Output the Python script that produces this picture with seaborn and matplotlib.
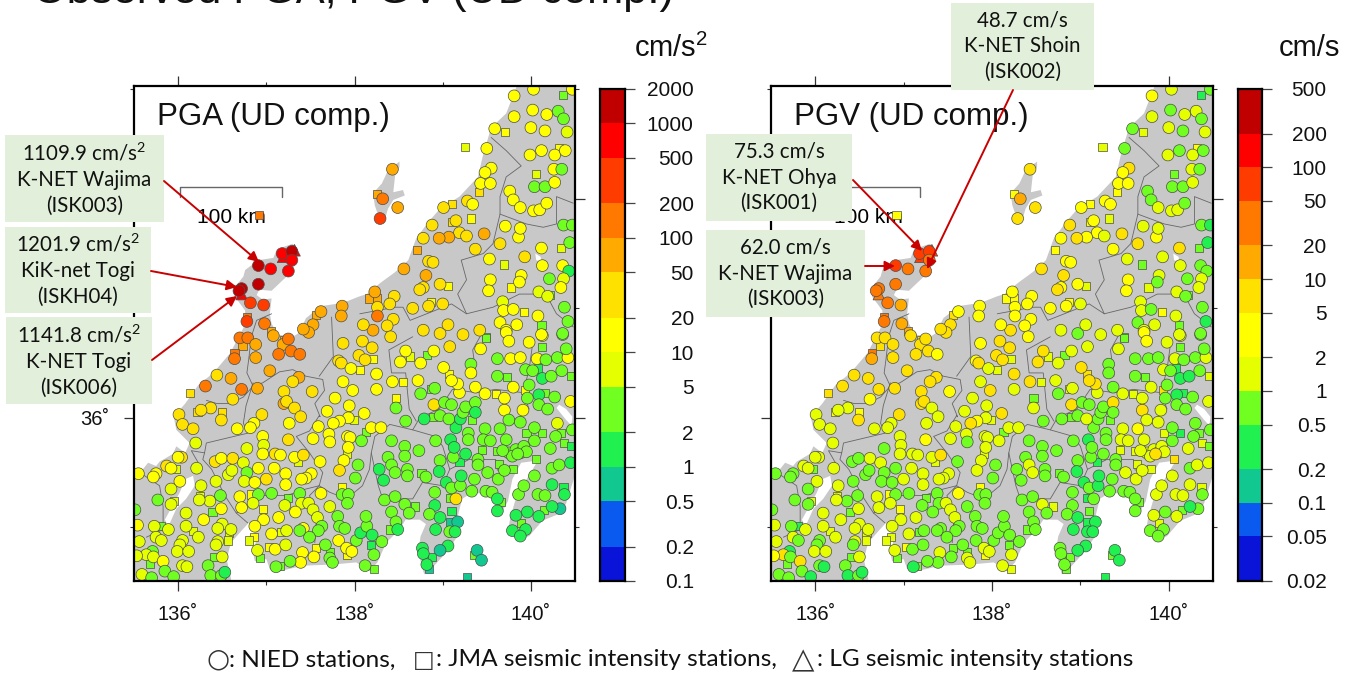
"""Observed PGA / PGV maps (UD component) drawn with seaborn."""

import numpy as np
import pandas as pd
import seaborn as sns
import matplotlib.pyplot as plt
from matplotlib.colors import BoundaryNorm, ListedColormap
from matplotlib.patches import FancyArrowPatch, Rectangle
from matplotlib.ticker import NullLocator

# Stations, ten per line in all five lists
STATION_LON = [
    136.91, 137.05, 137.25, 137.18, 137.29, 137.29, 136.91, 136.72, 136.69, 136.82,
    136.97, 136.78, 136.78, 136.98, 137.05, 137.20, 137.62, 137.56, 137.53, 137.48,
    137.42, 137.86, 137.85, 136.92, 138.43, 138.25, 138.32, 138.49, 138.29, 137.32,
    137.19, 136.72, 139.81, 140.03, 140.36, 140.47, 140.02, 139.81, 140.18, 140.31,
    140.37, 139.59, 139.71, 140.00, 140.16, 140.41, 139.25, 139.50, 139.99, 140.12,
    140.27, 140.39, 140.32, 140.26, 140.35, 140.06, 139.55, 139.48, 139.43, 139.54,
    139.41, 140.04, 140.16, 140.27, 139.76, 139.80, 139.88, 140.03, 140.10, 140.18,
    140.37, 140.47, 140.44, 140.12, 140.34, 139.93, 140.13, 140.36, 140.43, 140.21,
    140.37, 140.34, 140.09, 140.19, 140.22, 140.38, 140.42, 140.08, 140.12, 140.36,
    140.13, 139.89, 139.87, 139.77, 139.54, 139.52, 139.70, 139.53, 139.37, 139.65,
    139.86, 139.88, 139.71, 139.47, 139.19, 139.27, 139.07, 138.96, 138.78, 138.88,
    139.01, 139.28, 139.34, 139.11, 139.15, 139.32, 139.11, 138.71, 138.56, 138.81,
    138.84, 138.89, 138.97, 139.06, 138.78, 138.74, 138.66, 138.84, 138.87, 139.00,
    138.23, 138.16, 138.25, 138.26, 138.26, 138.45, 138.40, 138.44, 138.37, 138.21,
    138.10, 138.78, 138.97, 139.06, 139.23, 139.42, 139.65, 139.68, 139.69, 139.80,
    139.92, 139.84, 139.72, 138.41, 139.49, 136.70, 136.79, 136.73, 136.88, 136.64,
    136.64, 136.88, 137.08, 137.19, 137.25, 137.14, 137.28, 137.38, 137.04, 137.37,
    137.30, 136.90, 136.72, 136.60, 136.44, 136.31, 136.14, 136.62, 137.20, 137.52,
    137.20, 137.23, 137.32, 137.39, 137.87, 138.09, 138.20, 138.05, 138.12, 138.21,
    137.82, 137.85, 137.96, 138.06, 138.25, 137.87, 137.98, 138.25, 137.78, 137.94,
    137.69, 138.11, 137.93, 137.99, 137.83, 137.76, 137.59, 137.26, 136.95, 136.86,
    136.82, 136.67, 136.49, 136.50, 136.37, 136.26, 136.22, 136.01, 136.05, 136.17,
    136.20, 136.04, 136.00, 135.87, 135.92, 135.98, 135.55, 135.75, 135.72, 136.02,
    135.92, 135.92, 135.95, 135.77, 135.51, 135.54, 135.73, 135.80, 135.89, 135.75,
    135.81, 135.56, 136.05, 136.02, 135.99, 136.12, 135.71, 135.64, 135.72, 135.53,
    135.83, 135.68, 136.05, 136.10, 135.85, 135.59, 135.70, 135.95, 136.34, 136.37,
    136.49, 136.53, 136.41, 136.50, 136.45, 136.43, 136.23, 136.17, 136.09, 136.29,
    136.09, 136.39, 136.49, 136.50, 136.45, 136.58, 136.60, 136.57, 136.36, 136.24,
    136.25, 136.26, 136.43, 136.48, 136.21, 136.57, 136.61, 136.42, 136.49, 136.62,
    136.74, 136.78, 136.96, 136.97, 136.96, 136.91, 136.78, 136.75, 136.87, 137.00,
    137.09, 137.22, 137.10, 137.16, 137.32, 137.42, 137.36, 137.61, 137.25, 137.53,
    137.71, 137.72, 137.92, 137.95, 138.08, 137.93, 137.91, 137.88, 137.83, 138.04,
    138.01, 137.51, 137.45, 137.40, 137.22, 137.62, 137.86, 137.86, 137.93, 137.92,
    137.38, 137.25, 137.06, 136.91, 136.83, 136.70, 136.72, 136.85, 136.96, 136.97,
    137.21, 137.40, 137.48, 137.53, 137.33, 137.14, 137.58, 137.72, 137.81, 137.83,
    137.89, 137.63, 137.59, 137.42, 137.23, 137.17, 137.06, 136.87, 136.86, 136.80,
    136.90, 136.93, 137.03, 137.10, 137.22, 137.49, 137.38, 137.67, 137.82, 137.91,
    137.97, 138.02, 138.07, 138.14, 138.13, 138.20, 138.19, 138.31, 138.22, 138.12,
    138.22, 137.92, 137.72, 137.75, 137.72, 137.54, 137.56, 137.41, 137.39, 137.27,
    137.11, 137.15, 138.33, 138.28, 138.38, 138.42, 138.46, 138.60, 138.60, 138.76,
    138.81, 138.42, 138.57, 138.57, 138.73, 138.92, 139.09, 139.15, 138.19, 138.30,
    138.13, 138.34, 138.46, 138.69, 138.57, 138.62, 138.42, 138.47, 138.49, 138.40,
    138.91, 138.91, 138.85, 138.97, 139.10, 139.08, 139.17, 138.92, 139.08, 139.14,
    139.06, 138.77, 138.78, 138.97, 138.88, 138.82, 138.84, 139.39, 139.44, 139.36,
    139.28, 139.15, 139.08, 139.04, 139.10, 139.20, 139.21, 139.36, 139.33, 139.49,
    139.56, 139.62, 139.66, 139.62, 139.86, 139.92, 140.04, 140.08, 140.16, 140.24,
    140.37, 140.38, 140.24, 140.32, 140.45, 140.33, 140.24, 140.15, 140.09, 139.96,
    139.83, 139.89, 139.94, 139.79, 139.88, 139.51, 139.63, 139.70, 139.80, 139.64,
    139.40, 139.40, 139.26, 139.19, 139.12, 138.97, 138.96, 139.13, 139.29, 139.29,
    139.48, 139.65, 139.95, 140.13, 140.04, 139.72, 139.46, 139.54, 140.04, 140.28,
    140.34, 140.47, 140.38, 140.45, 140.22, 139.75, 139.83, 139.88, 139.92, 139.79,
    139.95, 139.85, 139.68, 140.06, 139.62, 139.45, 138.47, 138.47, 138.58, 138.43,
    138.55, 138.72, 138.75, 138.91, 138.87, 138.79, 138.89, 138.97, 139.07, 138.90,
    139.02, 139.10, 139.20, 139.23, 139.26, 139.37, 139.37, 139.33, 139.70, 139.91,
    139.75, 139.88, 140.09, 139.96, 140.09, 140.19, 140.27, 140.30, 140.45, 140.16,
    139.93, 139.70, 139.60, 139.48, 139.37, 139.19, 139.17, 139.10, 139.07, 139.01,
    138.75, 138.52, 138.58, 138.63, 138.82, 138.90, 139.08, 139.43, 139.32, 139.32,
    139.62, 139.77, 139.88, 139.62, 139.73, 139.94, 140.02, 140.08, 140.13, 140.23,
    140.35, 140.46, 139.98, 139.80, 140.07, 140.17, 140.30, 140.42, 139.98, 140.13,
    140.12, 140.36, 140.40, 139.72, 139.49, 139.75,
]
STATION_LAT = [
    37.39, 37.36, 37.34, 37.50, 37.52, 37.44, 37.22, 37.18, 37.16, 37.05,
    37.03, 36.92, 36.88, 36.86, 36.79, 36.71, 36.97, 36.94, 36.85, 36.78,
    36.81, 37.02, 36.93, 37.85, 38.27, 38.04, 38.00, 37.92, 37.82, 37.53,
    37.47, 37.13, 38.94, 39.00, 38.95, 39.00, 38.81, 38.75, 38.77, 38.80,
    38.73, 38.64, 38.61, 38.65, 38.62, 38.61, 38.47, 38.46, 38.40, 38.44,
    38.40, 38.44, 38.46, 38.27, 38.27, 38.23, 38.28, 38.24, 38.14, 38.14,
    38.06, 38.11, 38.11, 38.15, 38.07, 37.99, 37.92, 37.89, 37.90, 37.96,
    37.76, 37.76, 37.60, 37.55, 37.55, 37.47, 37.39, 37.39, 37.34, 37.27,
    37.27, 37.19, 37.15, 37.11, 37.12, 37.01, 36.88, 36.93, 36.85, 36.76,
    36.75, 37.30, 37.24, 37.19, 37.26, 37.16, 37.40, 37.45, 37.54, 37.59,
    37.65, 37.73, 37.75, 37.68, 37.69, 37.66, 37.65, 37.64, 37.64, 37.76,
    37.92, 37.98, 37.95, 37.95, 37.80, 37.82, 37.79, 37.53, 37.36, 37.30,
    37.43, 37.42, 37.22, 37.20, 37.19, 37.17, 37.00, 37.02, 37.06, 37.04,
    37.15, 37.09, 37.09, 37.01, 36.93, 37.11, 37.04, 36.90, 36.84, 36.80,
    36.85, 36.80, 36.77, 36.85, 36.76, 36.80, 36.87, 37.06, 36.98, 36.99,
    36.97, 36.85, 36.80, 36.74, 36.74, 36.73, 36.73, 36.66, 36.67, 36.59,
    36.54, 36.55, 36.75, 36.67, 36.72, 36.58, 36.61, 36.58, 36.43, 36.37,
    36.33, 36.27, 36.26, 36.36, 36.39, 36.29, 36.23, 36.17, 36.24, 36.24,
    36.13, 36.15, 36.09, 36.01, 36.68, 36.70, 36.64, 36.57, 36.53, 36.54,
    36.52, 36.50, 36.45, 36.44, 36.40, 36.33, 36.25, 36.26, 36.18, 36.11,
    36.06, 36.04, 36.00, 35.98, 35.97, 35.95, 35.92, 35.95, 36.03, 35.95,
    35.91, 35.90, 35.98, 36.05, 36.09, 36.07, 36.05, 36.03, 35.94, 35.90,
    35.77, 35.64, 35.64, 35.56, 35.54, 35.53, 35.49, 35.49, 35.46, 35.42,
    35.35, 35.21, 35.24, 35.25, 35.16, 35.02, 35.01, 35.01, 34.98, 34.91,
    34.88, 34.87, 34.88, 34.84, 34.78, 34.78, 34.78, 34.75, 34.73, 34.74,
    34.69, 34.67, 34.65, 34.64, 34.60, 34.57, 34.54, 34.55, 34.65, 34.56,
    34.56, 34.59, 34.73, 34.73, 34.87, 34.84, 34.91, 34.97, 35.01, 35.07,
    35.13, 35.14, 35.17, 35.03, 34.99, 34.95, 34.98, 34.88, 35.24, 35.25,
    35.29, 35.38, 35.42, 35.29, 35.54, 35.48, 35.52, 35.60, 35.63, 35.63,
    35.59, 35.72, 35.83, 35.75, 35.67, 35.54, 35.50, 35.42, 35.41, 35.44,
    35.54, 35.49, 35.67, 35.66, 35.64, 35.66, 35.60, 35.60, 35.80, 35.81,
    35.85, 35.78, 35.83, 35.82, 35.79, 35.73, 35.67, 35.61, 35.52, 35.57,
    35.45, 35.49, 35.45, 35.44, 35.39, 35.31, 35.37, 35.30, 35.30, 35.22,
    35.31, 35.27, 35.31, 35.30, 35.30, 35.28, 35.18, 35.22, 35.17, 35.07,
    35.20, 35.22, 35.22, 35.16, 35.14, 35.09, 35.09, 35.19, 35.10, 35.01,
    34.99, 35.01, 34.97, 34.99, 34.97, 34.96, 34.94, 35.01, 34.91, 34.88,
    34.79, 34.72, 34.82, 34.80, 34.84, 34.91, 34.97, 34.84, 34.88, 34.81,
    34.78, 34.88, 34.95, 35.01, 35.10, 34.93, 34.84, 34.87, 34.75, 34.65,
    34.62, 34.75, 34.72, 34.68, 34.77, 34.73, 34.81, 34.77, 34.68, 34.69,
    34.64, 34.65, 35.43, 35.53, 35.64, 35.57, 35.50, 35.53, 35.47, 35.50,
    35.46, 35.79, 35.74, 35.65, 35.70, 35.79, 35.80, 35.91, 35.91, 35.91,
    35.87, 35.25, 35.28, 35.19, 35.21, 35.13, 35.14, 35.05, 34.98, 34.98,
    35.32, 35.20, 35.12, 35.09, 35.15, 35.05, 35.05, 34.98, 34.96, 34.96,
    34.83, 34.81, 34.76, 34.79, 34.73, 34.66, 34.62, 34.79, 34.70, 34.75,
    34.55, 35.26, 35.27, 35.41, 35.36, 35.38, 35.47, 35.44, 35.33, 35.33,
    35.32, 35.26, 35.23, 35.15, 35.30, 35.38, 35.47, 35.30, 35.29, 35.39,
    35.37, 35.30, 35.54, 35.57, 35.59, 35.17, 35.19, 35.16, 35.10, 35.14,
    35.11, 35.04, 34.98, 34.97, 34.92, 35.50, 35.44, 35.52, 35.53, 35.58,
    35.62, 35.57, 35.67, 35.60, 35.64, 35.61, 35.51, 35.73, 35.86, 35.80,
    35.90, 35.90, 35.86, 35.86, 35.91, 35.80, 35.80, 35.79, 35.79, 35.83,
    35.86, 35.89, 35.77, 35.74, 35.72, 35.68, 35.71, 35.68, 35.74, 35.65,
    35.69, 35.67, 35.70, 35.62, 35.70, 35.71, 36.09, 36.18, 35.97, 36.33,
    36.33, 36.34, 36.22, 36.27, 36.26, 35.99, 36.01, 36.02, 35.99, 36.12,
    36.14, 36.12, 35.99, 36.05, 36.10, 36.14, 36.05, 35.98, 36.07, 36.07,
    35.98, 35.96, 36.21, 36.18, 36.12, 36.08, 36.19, 35.95, 36.15, 36.23,
    36.25, 36.18, 36.22, 36.22, 36.28, 36.23, 36.31, 36.34, 36.40, 36.46,
    36.50, 36.51, 36.61, 36.56, 36.57, 36.61, 36.65, 36.63, 36.49, 36.41,
    36.54, 36.54, 36.55, 36.38, 36.37, 36.44, 36.43, 36.45, 36.36, 36.38,
    36.43, 36.38, 36.30, 36.28, 36.54, 36.53, 36.55, 36.55, 36.69, 36.65,
    36.76, 36.77, 36.63, 36.78, 36.73, 36.70,
]
STATION_KIND = list(
    "oooooooooo" "osoossosoo" "ooososooot"
    "ttoosooooo" "oosooosooo" "oosoosoooo"
    "sooooooooo" "oooosooooo" "oooosoooso"
    "ooosoosooo" "oooooooooo" "ooososssoo"
    "ooosooooso" "ossooooooo" "oooooooooo"
    "sooosoosos" "oooooooooo" "oooooosooo"
    "ooooooooos" "ooosoooooo" "ooosoooooo"
    "ooosoosooo" "ooooosoooo" "oosoooosoo"
    "oooooooooo" "osoooooooo" "oosoooosoo"
    "osooososoo" "sooooooooo" "oooooooooo"
    "oooooosooo" "oooooosooo" "oooooosooo"
    "osoosoooso" "oooooooooo" "ooooosooss"
    "ossooooooo" "oooooosooo" "ssoososooo"
    "osooooooos" "oooooooooo" "soosooooos"
    "oooossoooo" "oooososoos" "sosooooooo"
    "oosooooooo" "soooooosoo" "osooooooss"
    "ooosoooooo" "oossoooooo" "sossoooooo"
    "ooosssosoo" "sooososooo" "ooooooosoo"
    "ooooooooos" "sosoooooso" "ooossooooo"
    "oooosoosoo" "osooooooos" "ooooso"
)
STATION_PGA = [
    1109.9, 700, 700, 700, 1150, 700, 1150, 1201.9, 1141.8, 300,
    300, 150, 300, 150, 70, 70, 70, 70, 70, 70,
    70, 70, 70, 150, 70, 70, 150, 70, 300, 700,
    700, 700, 15, 15, 3.5, 15, 15, 15, 15, 3.5,
    3.5, 15, 15, 15, 15, 7, 7, 15, 15, 15,
    15, 15, 15, 15, 3.5, 7, 15, 15, 15, 15,
    30, 3.5, 3.5, 15, 15, 15, 15, 15, 15, 15,
    3.5, 3.5, 3.5, 15, 7, 30, 15, 15, 1.5, 3.5,
    7, 15, 7, 7, 3.5, 3.5, 3.5, 15, 3.5, 3.5,
    15, 15, 15, 15, 15, 15, 7, 15, 30, 30,
    15, 15, 15, 70, 30, 30, 70, 70, 30, 30,
    30, 30, 15, 30, 30, 15, 30, 70, 70, 70,
    30, 30, 30, 15, 30, 30, 30, 30, 15, 30,
    70, 70, 70, 30, 150, 30, 30, 30, 30, 70,
    30, 30, 30, 30, 30, 30, 15, 7, 15, 15,
    15, 15, 15, 30, 3.5, 150, 150, 70, 70, 150,
    150, 70, 70, 70, 150, 150, 150, 150, 70, 70,
    30, 70, 150, 70, 30, 150, 30, 30, 30, 30,
    70, 30, 30, 30, 30, 30, 30, 30, 30, 15,
    30, 30, 15, 15, 15, 15, 15, 15, 15, 15,
    15, 15, 15, 7, 15, 15, 15, 15, 30, 15,
    15, 15, 30, 30, 30, 30, 30, 30, 30, 30,
    7, 30, 15, 30, 15, 7, 15, 15, 15, 15,
    7, 7, 7, 3.5, 3.5, 15, 7, 3.5, 7, 7,
    7, 7, 7, 7, 7, 7, 3.5, 7, 7, 7,
    15, 3.5, 7, 7, 3.5, 7, 3.5, 3.5, 3.5, 3.5,
    3.5, 1.5, 3.5, 7, 7, 7, 7, 7, 7, 15,
    7, 3.5, 15, 7, 7, 7, 7, 7, 7, 7,
    7, 7, 7, 3.5, 7, 7, 7, 30, 15, 30,
    7, 7, 15, 7, 15, 15, 3.5, 7, 15, 30,
    15, 15, 30, 15, 15, 30, 7, 15, 30, 15,
    15, 15, 15, 15, 3.5, 15, 7, 15, 30, 3.5,
    3.5, 15, 15, 15, 15, 15, 15, 3.5, 3.5, 3.5,
    3.5, 3.5, 3.5, 3.5, 15, 15, 15, 7, 15, 15,
    7, 7, 7, 7, 15, 15, 7, 7, 3.5, 3.5,
    3.5, 3.5, 3.5, 15, 7, 7, 15, 15, 15, 7,
    7, 3.5, 15, 15, 7, 3.5, 3.5, 3.5, 15, 15,
    15, 3.5, 1.5, 3.5, 3.5, 1.5, 1.5, 3.5, 3.5, 3.5,
    3.5, 15, 3.5, 3.5, 3.5, 15, 15, 15, 15, 3.5,
    3.5, 3.5, 1.5, 1.5, 3.5, 3.5, 3.5, 3.5, 3.5, 3.5,
    3.5, 3.5, 3.5, 3.5, 3.5, 3.5, 1.5, 1.5, 15, 15,
    3.5, 3.5, 3.5, 3.5, 3.5, 3.5, 3.5, 3.5, 1.5, 3.5,
    3.5, 1.5, 3.5, 1.5, 1.5, 0.7, 0.7, 1.5, 3.5, 1.5,
    1.5, 1.5, 1.5, 0.7, 1.5, 1.5, 0.7, 0.7, 0.7, 3.5,
    0.7, 30, 3.5, 1.5, 3.5, 3.5, 1.5, 3.5, 3.5, 3.5,
    3.5, 1.5, 3.5, 1.5, 3.5, 3.5, 3.5, 3.5, 3.5, 1.5,
    1.5, 1.5, 3.5, 3.5, 1.5, 0.7, 1.5, 3.5, 1.5, 1.5,
    1.5, 3.5, 1.5, 1.5, 1.5, 3.5, 3.5, 3.5, 3.5, 3.5,
    3.5, 3.5, 1.5, 1.5, 3.5, 3.5, 1.5, 1.5, 3.5, 3.5,
    3.5, 3.5, 3.5, 3.5, 3.5, 3.5, 3.5, 3.5, 3.5, 3.5,
    3.5, 3.5, 3.5, 1.5, 3.5, 3.5, 3.5, 3.5, 3.5, 3.5,
    3.5, 3.5, 3.5, 3.5, 3.5, 3.5, 3.5, 15, 3.5, 15,
    15, 15, 3.5, 3.5, 3.5, 1.5, 3.5, 3.5, 3.5, 30,
    3.5, 3.5, 1.5, 3.5, 3.5, 3.5, 1.5, 3.5, 15, 15,
    3.5, 3.5, 1.5, 3.5, 3.5, 3.5, 3.5, 7, 15, 3.5,
    15, 15, 15, 15, 15, 15, 15, 15, 15, 15,
    15, 15, 15, 7, 3.5, 15, 30, 15, 3.5, 15,
    3.5, 15, 15, 3.5, 3.5, 3.5, 3.5, 1.5, 1.5, 3.5,
    3.5, 3.5, 3.5, 15, 15, 3.5, 3.5, 15, 15, 3.5,
    15, 3.5, 3.5, 15, 3.5, 15,
]
STATION_PGV = [
    62.0, 30, 48.7, 75.3, 70, 30, 30, 30, 30, 30,
    15, 30, 30, 15, 15, 7, 3.5, 7, 7, 7,
    7, 3.5, 3.5, 3.5, 7, 3.5, 15, 7, 7, 70,
    70, 30, 3.5, 1.5, 0.35, 0.7, 0.7, 1.5, 1.5, 1.5,
    0.7, 0.7, 1.5, 1.5, 0.7, 1.5, 1.5, 0.7, 1.5, 0.7,
    1.5, 0.7, 3.5, 1.5, 0.7, 0.7, 7, 3.5, 3.5, 3.5,
    3.5, 0.7, 0.7, 1.5, 0.7, 0.7, 1.5, 1.5, 1.5, 0.7,
    0.7, 0.35, 0.35, 7, 0.7, 1.5, 1.5, 0.7, 0.7, 0.7,
    1.5, 1.5, 1.5, 0.7, 0.7, 0.7, 0.35, 1.5, 0.7, 0.7,
    1.5, 1.5, 0.7, 1.5, 3.5, 3.5, 0.7, 1.5, 3.5, 7,
    3.5, 1.5, 1.5, 7, 3.5, 1.5, 3.5, 7, 3.5, 7,
    3.5, 3.5, 3.5, 3.5, 3.5, 1.5, 3.5, 3.5, 7, 7,
    3.5, 3.5, 3.5, 1.5, 3.5, 7, 3.5, 3.5, 3.5, 1.5,
    3.5, 3.5, 3.5, 3.5, 3.5, 3.5, 3.5, 3.5, 3.5, 7,
    3.5, 1.5, 0.7, 1.5, 1.5, 1.5, 0.7, 1.5, 1.5, 0.7,
    3.5, 1.5, 1.5, 3.5, 0.7, 7, 7, 7, 7, 30,
    15, 7, 7, 7, 7, 7, 7, 3.5, 7, 7,
    7, 7, 7, 7, 7, 7, 7, 3.5, 7, 3.5,
    7, 7, 1.5, 1.5, 3.5, 7, 7, 7, 7, 1.5,
    3.5, 7, 1.5, 1.5, 7, 1.5, 7, 1.5, 1.5, 1.5,
    1.5, 7, 1.5, 1.5, 3.5, 7, 1.5, 1.5, 7, 1.5,
    1.5, 1.5, 7, 3.5, 1.5, 1.5, 3.5, 1.5, 1.5, 1.5,
    1.5, 1.5, 1.5, 1.5, 1.5, 0.7, 0.7, 0.7, 0.7, 1.5,
    0.7, 0.7, 1.5, 0.7, 0.7, 1.5, 0.7, 0.35, 1.5, 1.5,
    0.7, 1.5, 0.7, 0.7, 1.5, 1.5, 0.35, 7, 0.7, 3.5,
    7, 0.7, 0.7, 0.35, 0.7, 0.7, 0.7, 0.35, 0.7, 0.35,
    0.7, 0.35, 0.7, 1.5, 1.5, 0.7, 1.5, 1.5, 1.5, 1.5,
    1.5, 0.7, 1.5, 1.5, 1.5, 1.5, 1.5, 1.5, 0.7, 1.5,
    1.5, 1.5, 0.7, 0.7, 1.5, 0.7, 0.7, 0.7, 0.7, 1.5,
    1.5, 0.7, 1.5, 1.5, 1.5, 0.7, 0.7, 0.7, 0.7, 1.5,
    1.5, 1.5, 1.5, 1.5, 1.5, 7, 1.5, 0.7, 3.5, 1.5,
    1.5, 0.7, 1.5, 1.5, 1.5, 1.5, 1.5, 1.5, 1.5, 0.7,
    0.7, 1.5, 1.5, 1.5, 1.5, 3.5, 3.5, 0.7, 0.7, 0.7,
    0.7, 0.7, 0.7, 0.7, 3.5, 1.5, 1.5, 1.5, 3.5, 1.5,
    0.7, 0.7, 1.5, 1.5, 0.7, 1.5, 1.5, 0.7, 0.7, 0.7,
    0.7, 0.7, 0.7, 0.7, 0.7, 0.7, 1.5, 1.5, 1.5, 1.5,
    1.5, 0.7, 3.5, 0.7, 0.7, 0.7, 0.7, 0.7, 0.7, 1.5,
    1.5, 0.7, 0.7, 0.7, 0.7, 0.7, 0.7, 0.7, 1.5, 1.5,
    1.5, 3.5, 1.5, 1.5, 0.7, 0.7, 0.7, 1.5, 0.7, 0.7,
    0.35, 0.7, 0.7, 0.7, 0.7, 1.5, 1.5, 0.7, 0.7, 0.7,
    0.7, 0.7, 0.7, 0.7, 0.7, 0.7, 0.35, 0.7, 1.5, 1.5,
    0.7, 0.7, 0.7, 1.5, 1.5, 0.7, 0.7, 0.7, 0.7, 0.7,
    0.7, 0.7, 0.7, 0.35, 0.7, 0.35, 0.35, 0.35, 0.35, 0.35,
    0.35, 0.7, 0.7, 0.35, 0.7, 0.7, 0.7, 0.35, 0.35, 0.7,
    0.35, 0.7, 0.35, 0.35, 0.7, 0.35, 0.35, 0.7, 0.7, 0.7,
    0.7, 0.7, 0.7, 0.7, 1.5, 1.5, 1.5, 1.5, 1.5, 1.5,
    1.5, 0.7, 0.7, 1.5, 1.5, 0.7, 0.35, 0.7, 1.5, 0.7,
    1.5, 1.5, 0.7, 0.7, 0.7, 1.5, 1.5, 1.5, 1.5, 1.5,
    0.7, 0.7, 0.7, 0.35, 0.7, 0.7, 0.35, 0.7, 0.7, 0.7,
    1.5, 3.5, 1.5, 0.35, 0.7, 1.5, 1.5, 1.5, 0.7, 0.7,
    0.7, 0.7, 1.5, 0.7, 1.5, 1.5, 1.5, 1.5, 1.5, 1.5,
    1.5, 7, 1.5, 7, 1.5, 1.5, 1.5, 0.7, 0.7, 7,
    1.5, 1.5, 0.7, 1.5, 1.5, 0.7, 0.7, 0.7, 1.5, 7,
    0.7, 0.7, 0.7, 0.7, 0.7, 7, 0.7, 0.7, 7, 1.5,
    1.5, 1.5, 0.35, 0.7, 0.7, 0.7, 0.7, 0.7, 1.5, 0.35,
    7, 1.5, 1.5, 1.5, 0.7, 1.5, 7, 7, 7, 7,
    1.5, 7, 7, 1.5, 0.7, 1.5, 1.5, 1.5, 0.7, 0.7,
    0.7, 0.7, 0.7, 0.7, 0.7, 1.5, 0.7, 0.35, 0.35, 0.35,
    0.7, 1.5, 0.7, 1.5, 1.5, 0.7, 0.7, 1.5, 1.5, 0.7,
    1.5, 0.7, 0.7, 3.5, 0.7, 3.5,
]

# Coastline, lakes and prefecture borders, lon / lat
LAND_LON = [
    139.84, 139.84, 139.72, 139.55, 139.46, 139.40, 139.19, 138.97, 138.85, 138.70,
    138.61, 138.46, 138.29, 138.14, 138.06, 137.87, 137.62, 137.45, 137.42, 137.36,
    137.30, 137.13, 137.06, 137.04, 137.06, 136.96, 136.89, 136.92, 137.06, 137.23,
    137.34, 137.36, 137.30, 137.12, 137.08, 136.91, 136.76, 136.74, 136.66, 136.64,
    136.76, 136.76, 136.74, 136.59, 136.40, 136.23, 136.08, 135.95, 135.98, 136.13,
    136.08, 135.98, 135.94, 135.79, 135.75, 135.66, 135.60, 135.51, 135.49, 135.30,
    135.30, 136.60, 136.60, 136.55, 136.60, 136.72, 136.80, 136.86, 136.88, 136.85,
    136.87, 137.00, 137.04, 137.15, 137.42, 137.75, 138.02, 138.17, 138.26, 138.36,
    138.51, 138.58, 138.74, 138.81, 138.75, 138.72, 138.79, 138.87, 139.04, 139.17,
    139.17, 139.22, 139.34, 139.57, 139.66, 139.74, 139.79, 139.89, 140.08, 139.96,
    139.85, 139.77, 139.74, 139.87, 139.98, 140.13, 140.34, 140.40, 140.49, 140.60,
    140.60,
]
LAND_LAT = [
    39.10, 39.03, 38.78, 38.65, 38.41, 38.20, 38.02, 37.91, 37.80, 37.64,
    37.44, 37.33, 37.23, 37.13, 37.11, 37.05, 37.02, 36.91, 36.86, 36.77,
    36.74, 36.76, 36.86, 36.95, 37.09, 37.08, 37.12, 37.17, 37.16, 37.29,
    37.41, 37.53, 37.59, 37.54, 37.46, 37.44, 37.35, 37.29, 37.21, 37.11,
    36.98, 36.88, 36.82, 36.59, 36.41, 36.30, 36.13, 36.01, 35.89, 35.77,
    35.68, 35.74, 35.67, 35.60, 35.56, 35.59, 35.53, 35.53, 35.48, 35.48,
    34.40, 34.40, 34.53, 34.71, 34.86, 34.97, 35.04, 34.98, 34.86, 34.77,
    34.69, 34.71, 34.62, 34.60, 34.65, 34.66, 34.68, 34.60, 34.68, 34.86,
    34.98, 35.07, 35.07, 35.03, 34.92, 34.78, 34.57, 34.62, 34.77, 34.92,
    35.10, 35.26, 35.32, 35.29, 35.12, 35.24, 35.44, 35.59, 35.61, 35.45,
    35.32, 35.10, 34.97, 34.88, 34.92, 35.06, 35.13, 35.22, 35.45, 35.45,
    39.10,
]
SADO_LON = [138.51, 138.38, 138.31, 138.21, 138.23, 138.29, 138.34, 138.38, 138.44, 138.57, 138.55, 138.44, 138.46, 138.51]
SADO_LAT = [38.34, 38.26, 38.14, 38.05, 37.94, 37.80, 37.80, 37.91, 37.99, 38.03, 38.08, 38.06, 38.21, 38.29]
LAKE_BIWA_LON = [136.17, 136.19, 136.09, 135.98, 135.89, 135.85, 136.02, 136.08]
LAKE_BIWA_LAT = [35.47, 35.38, 35.26, 35.17, 35.01, 35.07, 35.32, 35.44]
KASUMIGAURA_LON = [140.32, 140.40, 140.47, 140.46, 140.40, 140.34, 140.29]
KASUMIGAURA_LAT = [36.12, 36.08, 36.01, 35.93, 35.98, 36.04, 36.09]
INAWASHIRO_LON = [140.05, 140.11, 140.12, 140.06]
INAWASHIRO_LAT = [37.50, 37.47, 37.42, 37.44]

BORDERS = [
    ([137.06, 136.89, 136.83, 136.80, 136.78, 136.85, 136.96, 137.15, 137.30, 137.45,
      137.64, 137.66, 137.55, 137.61, 137.60, 137.49, 137.34, 137.49, 137.64, 137.60],
     [36.95, 36.89, 36.74, 36.53, 36.41, 36.29, 36.32, 36.42, 36.44, 36.38,
      36.35, 36.25, 36.13, 36.01, 36.02, 35.88, 35.83, 35.68, 35.50, 35.38]),
    ([137.74, 137.76, 137.60], [36.92, 36.56, 36.38]),
    ([136.32, 136.44, 136.59, 136.74, 136.85], [36.16, 36.13, 36.13, 36.19, 36.29]),
    ([136.85, 136.77, 136.74, 136.79, 136.58, 136.32, 136.30, 136.15, 136.25],
     [36.32, 36.11, 35.95, 35.86, 35.82, 35.77, 35.68, 35.70, 35.56]),
    ([136.30, 136.28, 136.38, 136.53, 136.66, 136.79], [35.68, 35.62, 35.53, 35.29, 35.13, 35.04]),
    ([136.66, 136.96, 137.23, 137.45, 137.60, 137.72, 137.91, 138.09, 138.17, 138.19,
      138.23, 138.40, 138.66, 138.74],
     [35.13, 35.29, 35.29, 35.35, 35.38, 35.32, 35.26, 35.38, 35.53, 35.68,
      35.83, 35.94, 35.89, 36.00]),
    ([137.60, 137.49, 137.57, 137.55], [35.38, 35.29, 35.10, 34.86]),
    ([138.19, 138.27, 138.32, 138.66, 138.77, 139.00, 139.08, 139.00, 138.92, 138.66],
     [35.68, 35.38, 35.26, 35.26, 35.41, 35.38, 35.53, 35.74, 35.83, 35.89]),
    ([138.66, 138.39, 138.42, 138.58, 138.62, 138.70], [36.74, 36.62, 36.41, 36.41, 36.08, 35.97]),
    ([138.74, 138.96, 139.11, 139.38, 139.60, 139.91, 139.98], [36.00, 36.08, 36.26, 36.23, 36.26, 36.23, 36.08]),
    ([139.38, 139.34, 139.45], [36.38, 36.62, 36.78]),
    ([140.02, 139.98, 139.91], [36.68, 36.44, 36.23]),
    ([139.08, 139.30, 139.60, 139.62], [35.53, 35.62, 35.62, 35.52]),
    ([135.51, 135.79, 135.83, 135.83, 135.64], [35.53, 35.38, 35.19, 34.98, 34.91]),
    ([139.55, 139.72, 139.89, 139.72, 139.65, 139.65, 139.95, 140.14, 140.29, 140.29, 140.48],
     [38.56, 38.44, 38.30, 38.20, 38.02, 37.86, 37.77, 37.74, 37.77, 38.02, 37.96]),
    ([139.65, 139.57, 139.46, 139.21, 139.27, 139.17, 139.27, 139.57, 139.87, 140.17, 140.29, 140.48],
     [37.86, 37.59, 37.50, 37.44, 37.26, 37.13, 36.95, 37.01, 37.13, 37.13, 36.95, 36.83]),
    ([138.06, 138.46, 138.55, 138.63, 139.10, 139.27], [36.95, 37.01, 37.01, 36.89, 37.04, 36.95]),
]

# Colour classes, low to high
CLASS_COLORS = ['#0a14d8', '#0a5af0', '#10c890', '#20f050', '#70ff20', '#e6ff00', '#ffff00',
                '#ffe100', '#ffaa00', '#ff7800', '#ff3c00', '#ff0000', '#c00000']
PGA_LEVELS = [0.1, 0.2, 0.5, 1, 2, 5, 10, 20, 50, 100, 200, 500, 1000, 2000]
PGV_LEVELS = [0.02, 0.05, 0.1, 0.2, 0.5, 1, 2, 5, 10, 20, 50, 100, 200, 500]
MAJOR_LON = [136, 138, 140]
MINOR_LON = [137, 139]
MAJOR_LAT = [36, 38]
MINOR_LAT = [35, 37, 39]

GREEN_BOX = '#e2efda'
ARROW_RED = '#c80000'
MAP_FONT = 'Liberation Sans'
LABEL_FONTS = ['Lato', 'DejaVu Sans']
SQUARED = r'cm/s$^{\mathregular{2}}$'

PGA_BOXES = [
    ((5, 135, 164, 222), f'1109.9 {SQUARED}\nK-NET Wajima\n(ISK003)'),
    ((5, 227, 151, 313), f'1201.9 {SQUARED}\nKiK-net Togi\n(ISKH04)'),
    ((6, 317, 152, 404), f'1141.8 {SQUARED}\nK-NET Togi\n(ISK006)'),
]
PGV_BOXES = [
    ((706, 134, 852, 221), '75.3 cm/s\nK-NET Ohya\n(ISK001)'),
    ((706, 230, 865, 317), '62.0 cm/s\nK-NET Wajima\n(ISK003)'),
    ((951, 3, 1094, 90), '48.7 cm/s\nK-NET Shoin\n(ISK002)'),
]
ARROWS = [
    ((164, 181), (259, 262)), ((151, 271), (237, 287)), ((152, 360), (237, 296)),
    ((853, 180), (922, 251)), ((865, 266), (895, 266)), ((1013, 90), (927, 269)),
]
CAPTION_SYMBOLS = [(206, '○', 19), (413, '□', 16.5), (792, '△', 21)]
CAPTION_TEXTS = [(229, ': NIED stations,'), (436, ': JMA seismic intensity stations,'),
                 (817, ': LG seismic intensity stations')]

FIG_W, FIG_H = 1352, 675

sns.set_theme(style='white')
plt.rcParams['font.family'] = [MAP_FONT, 'DejaVu Sans']
plt.rcParams['axes.linewidth'] = 1.6
plt.rcParams['axes.edgecolor'] = 'black'

stations = pd.DataFrame({
    'lon': STATION_LON, 'lat': STATION_LAT, 'kind': STATION_KIND,
    'pga': STATION_PGA, 'pgv': STATION_PGV,
})


def px(x, y):
    """Pixel position in the reference to figure fraction."""
    return x / FIG_W, 1 - y / FIG_H


def axes_at(fig, left, top, right, bottom):
    x0, y0 = px(left, bottom)
    return fig.add_axes([x0, y0, (right - left) / FIG_W, (bottom - top) / FIG_H])


def draw_map(ax, column, levels, title, show_lat_labels):
    ax.set_facecolor('white')
    ax.fill(LAND_LON, LAND_LAT, color='#c8c8c8', lw=0, zorder=1)
    ax.fill(SADO_LON, SADO_LAT, color='#c8c8c8', lw=0, zorder=1)
    for lake_lon, lake_lat in [(LAKE_BIWA_LON, LAKE_BIWA_LAT), (KASUMIGAURA_LON, KASUMIGAURA_LAT),
                               (INAWASHIRO_LON, INAWASHIRO_LAT)]:
        ax.fill(lake_lon, lake_lat, color='white', lw=0, zorder=1.1)
    for border_lon, border_lat in BORDERS:
        ax.plot(border_lon, border_lat, color='#666666', lw=0.6, zorder=1.2)

    # scale bar
    ax.plot([136.02, 136.02, 137.18, 137.18], [38.02, 38.11, 38.11, 38.02], color='#666666', lw=1, zorder=1.5)
    ax.text(136.6, 37.83, '100 km', fontsize=15, ha='center', va='center', color='black', zorder=1.6)

    bins = np.digitize(stations[column], levels) - 1
    data = stations.assign(bin=bins)
    palette = dict(enumerate(CLASS_COLORS))
    for kind, marker, size, order in [('s', 's', 34, 2), ('t', '^', 70, 2.5), ('o', 'o', 72, 3)]:
        sns.scatterplot(data=data[data['kind'] == kind], x='lon', y='lat', hue='bin', palette=palette,
                        marker=marker, s=size, edgecolor='#4d4d4d', linewidth=0.5, legend=False,
                        ax=ax, zorder=order, clip_on=True)

    ax.set_xlim(135.5, 140.5)
    ax.set_ylim(34.51, 39.03)
    ax.set_xlabel('')
    ax.set_ylabel('')
    ax.set_xticks(MAJOR_LON)
    ax.set_xticks(MINOR_LON, minor=True)
    ax.set_yticks(MAJOR_LAT)
    ax.set_yticks(MINOR_LAT, minor=True)
    ax.set_xticklabels([f'{v}˚' for v in MAJOR_LON])
    if show_lat_labels:
        ax.set_yticklabels([f'{v}˚' for v in MAJOR_LAT])
    else:
        ax.set_yticklabels([])
    ax.tick_params(which='major', length=7, width=0.9, color='#333333', top=True, right=True,
                   left=True, bottom=True, labelsize=14.5, pad=10.5, labelcolor='#111111')
    ax.tick_params(which='minor', length=3.2, width=0.8, color='#333333', top=True, right=True,
                   left=True, bottom=True)
    ax.text(0.052, 0.9375, title, transform=ax.transAxes, fontsize=22.5, ha='left', va='center',
            color='#111111', zorder=4)
    for spine in ax.spines.values():
        spine.set_zorder(5)
        spine.set_visible(True)


def draw_colorbar(ax, levels, tick_labels, pad):
    cmap = ListedColormap(CLASS_COLORS)
    norm = BoundaryNorm(levels, cmap.N)
    centers = np.sqrt(np.array(levels[:-1]) * np.array(levels[1:]))
    ax.pcolormesh([0, 1], levels, centers[:, None], cmap=cmap, norm=norm, shading='flat')
    ax.set_yscale('log')
    ax.set_ylim(levels[0], levels[-1])
    ax.set_xticks([])
    ax.yaxis.tick_right()
    ax.set_yticks(levels)
    ax.set_yticklabels(tick_labels)
    ax.yaxis.set_minor_locator(NullLocator())
    ax.tick_params(axis='y', which='major', length=7, width=0.9, color='#444444', right=True,
                   labelsize=15, pad=pad, labelcolor='#111111')
    for label in ax.get_yticklabels():
        label.set_ha('right')


fig = plt.figure(figsize=(FIG_W / 100, FIG_H / 100), dpi=100, facecolor='white')

ax_pga = axes_at(fig, 134, 86, 575, 581)
ax_pgv = axes_at(fig, 771, 86, 1213, 581)
draw_map(ax_pga, 'pga', PGA_LEVELS, 'PGA (UD comp.)', True)
draw_map(ax_pgv, 'pgv', PGV_LEVELS, 'PGV (UD comp.)', False)

cax_pga = axes_at(fig, 600, 89, 625, 581)
cax_pgv = axes_at(fig, 1238, 89, 1262, 581)
draw_colorbar(cax_pga, PGA_LEVELS, [f'{v:g}' for v in PGA_LEVELS], 42.5)
draw_colorbar(cax_pgv, PGV_LEVELS, [f'{v:g}' for v in PGV_LEVELS], 39.5)

fig.text(*px(708, 48), SQUARED, fontsize=21, ha='right', va='center', color='#111111')
fig.text(*px(1340, 48), 'cm/s', fontsize=21, ha='right', va='center', color='#111111')

# Callout boxes and arrows sit above the maps
for (left, top, right, bottom), text in PGA_BOXES + PGV_BOXES:
    x0, y0 = px(left, bottom)
    fig.add_artist(Rectangle((x0, y0), (right - left) / FIG_W, (bottom - top) / FIG_H,
                             transform=fig.transFigure, facecolor=GREEN_BOX, edgecolor='none', zorder=5))
    fig.text(*px((left + right) / 2, (top + bottom) / 2), text, fontsize=14.8, family=LABEL_FONTS,
             ha='center', va='center', linespacing=1.36, color='#111111', zorder=6)
for start, end in ARROWS:
    fig.add_artist(FancyArrowPatch(px(*start), px(*end), transform=fig.transFigure,
                                   arrowstyle='-|>', mutation_scale=15, color=ARROW_RED,
                                   lw=1.4, shrinkA=0, shrinkB=0, zorder=7))

fig.text(*px(33, 3), 'Observed PGA, PGV (UD comp.)', fontsize=31.2, ha='left', va='baseline', color='#111111')
for x, symbol, size in CAPTION_SYMBOLS:
    fig.text(*px(x, 660), symbol, fontsize=size, family='DejaVu Sans', ha='left', va='center', color='#333333')
for x, text in CAPTION_TEXTS:
    fig.text(*px(x, 660), text, fontsize=17.6, family=LABEL_FONTS, ha='left', va='center', color='#111111')

fig.savefig('out.png', dpi=100, facecolor='white')
